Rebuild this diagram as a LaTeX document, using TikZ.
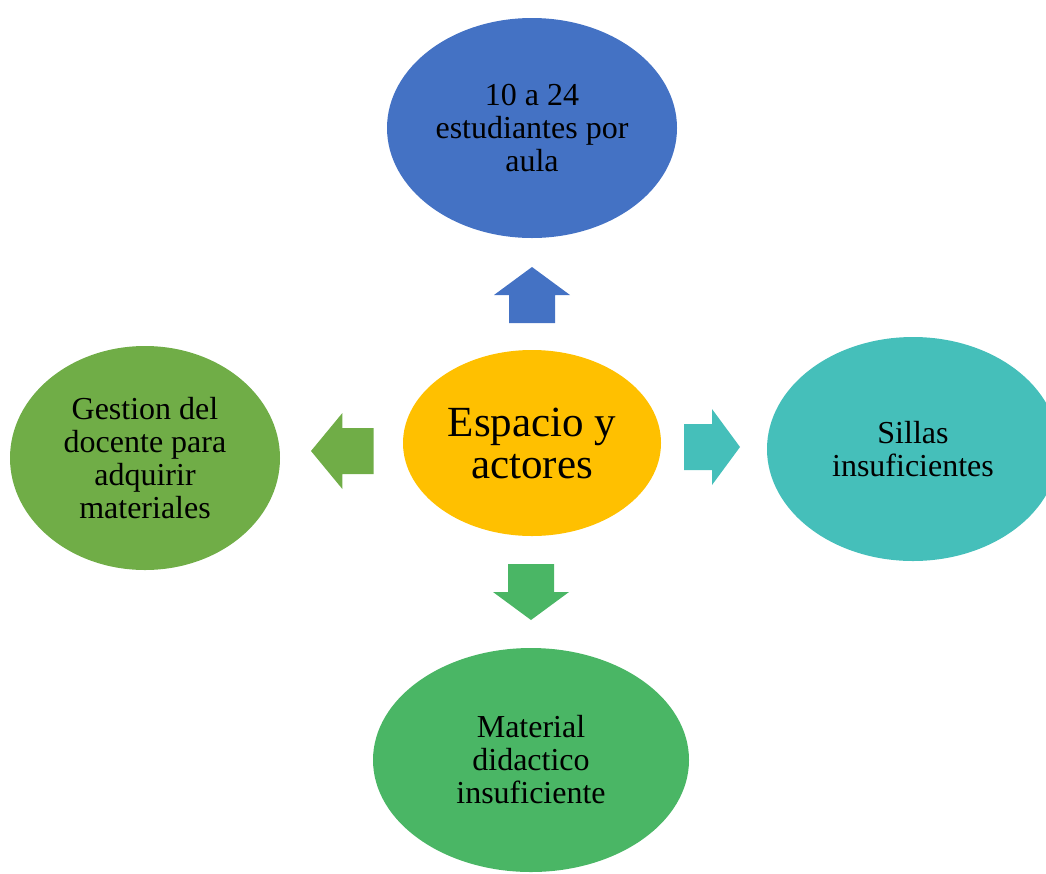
\documentclass[tikz,border=0pt]{standalone}
\usepackage{fontspec}
\setmainfont{Liberation Serif}
\usepackage{tikz}
\usetikzlibrary{shapes.geometric}
\usetikzlibrary{positioning}
\definecolor{centro}{HTML}{FFC000}
\definecolor{azul}{HTML}{4472C4}
\definecolor{turquesa}{HTML}{45BFBA}
\definecolor{oliva}{HTML}{70AD47}
\definecolor{verde}{HTML}{4AB665}
\tikzset{bubble/.style = {ellipse, inner sep=0pt, align=center,
                          font=\fontsize{32}{33}\selectfont}}
\newcommand{\flecha}{\fill (0, 0) -- (-28, 38) -- (-28, 23) -- (-56, 23)
                       -- (-56, -23) -- (-28, -23) -- (-28, -38) -- cycle;}

\begin{document}
\begin{tikzpicture}[x=1pt, y=-1pt]
    \clip (0, 0) rectangle (1046, 873);
    \node [bubble, fill=centro, minimum width=258pt, minimum height=186pt,
           font=\fontsize{43}{42}\selectfont] (espacio) at (532, 443) {Espacio y\\actores};

    \node [bubble, fill=azul, minimum width=290pt, minimum height=220pt] (aula) at (532, 128)
          {10 a 24\\estudiantes por\\aula};
    \node [bubble, fill=turquesa, minimum width=292pt, minimum height=224pt] (sillas) at (913, 449)
          {Sillas\\insuficientes};
    \node [bubble, fill=verde, minimum width=316pt, minimum height=224pt] (material) at (531, 760)
          {Material\\didactico\\insuficiente};
    \node [bubble, fill=oliva, minimum width=270pt, minimum height=224pt] (gestion) at (145, 458)
          {Gestion del\\docente para\\adquirir\\materiales};

    % flechas
    \begin{scope}[shift={(532, 267)}, rotate=90, azul]
      \flecha
    \end{scope}
    \begin{scope}[shift={(740, 447)}, turquesa]
      \flecha
    \end{scope}
    \begin{scope}[shift={(531, 620)}, rotate=-90, verde]
      \flecha
    \end{scope}
    \begin{scope}[shift={(311, 451)}, rotate=180, xscale=1.12, oliva]
      \flecha
    \end{scope}
  \end{tikzpicture}
\end{document}
